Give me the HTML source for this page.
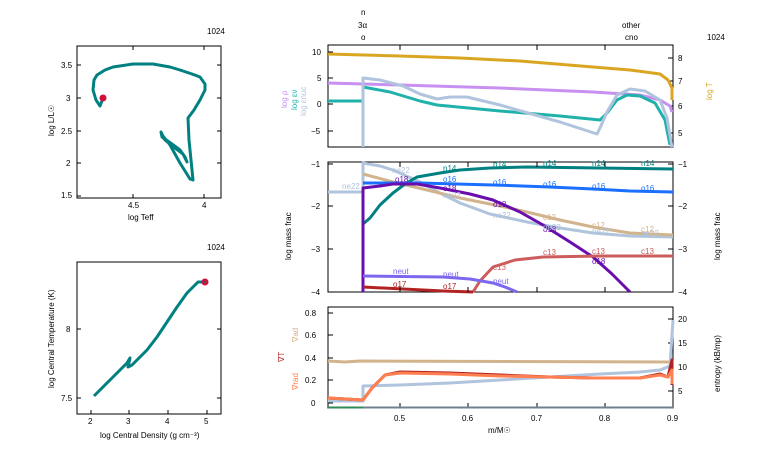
<!DOCTYPE html>
<html><head><meta charset="utf-8"><style>
html,body{margin:0;padding:0;background:#fff;}
svg{display:block;font-family:"Liberation Sans","DejaVu Sans",sans-serif;}
text{font-size:8px;fill:#000;}
.f{fill:none;stroke:#000;stroke-width:1;}
.l{fill:none;stroke-width:3;stroke-linejoin:round;stroke-linecap:butt;}
.s{font-size:8px;}
</style></head><body>
<svg width="766" height="460" viewBox="0 0 766 460" xmlns="http://www.w3.org/2000/svg">
<!-- HR diagram -->
<text x="207" y="34">1024</text>
<rect class="f" x="77" y="46" width="144" height="152"/>
<g stroke="#000" stroke-width="1">
<line x1="77" y1="65" x2="81" y2="65"/><line x1="77" y1="98" x2="81" y2="98"/><line x1="77" y1="131" x2="81" y2="131"/><line x1="77" y1="163" x2="81" y2="163"/><line x1="77" y1="196" x2="81" y2="196"/>
<line x1="217" y1="65" x2="221" y2="65"/><line x1="217" y1="98" x2="221" y2="98"/><line x1="217" y1="131" x2="221" y2="131"/><line x1="217" y1="163" x2="221" y2="163"/>
<line x1="133" y1="198" x2="133" y2="194"/><line x1="204" y1="198" x2="204" y2="194"/><line x1="133" y1="46" x2="133" y2="50"/><line x1="204" y1="46" x2="204" y2="50"/>
</g>
<text x="61" y="68">3.5</text><text x="66" y="101">3</text><text x="61" y="134">2.5</text><text x="66" y="166">2</text><text x="61" y="198">1.5</text>
<text x="128" y="208">4.5</text><text x="202" y="208">4</text>
<text x="128" y="220">log Teff</text>
<text transform="translate(54,136) rotate(-90)">log L/L☉</text>
<polyline class="l" stroke="#008080" points="103,98 100,106 96,100 93,90 94,80 97,75 105,70 113,67 133,64 153,64 170,67 180,70 192,74 200,77 205,84 205,90 200,100 194,110 188,118 189,140 191,160 193,180 190,179 180,163 170,145 163,136 161,132 162,137 172,144 180,150 185,157 187,162 183,154 175,148 165,140 162,135"/>
<circle cx="103" cy="98" r="3.5" fill="#d0103a"/>
<!-- density panel -->
<text x="207" y="250">1024</text>
<rect class="f" x="77" y="262" width="144" height="152"/>
<g stroke="#000" stroke-width="1">
<line x1="91" y1="414" x2="91" y2="410"/><line x1="129" y1="414" x2="129" y2="410"/><line x1="168" y1="414" x2="168" y2="410"/><line x1="207" y1="414" x2="207" y2="410"/>
<line x1="77" y1="329" x2="81" y2="329"/><line x1="77" y1="398" x2="81" y2="398"/><line x1="217" y1="329" x2="221" y2="329"/><line x1="217" y1="398" x2="221" y2="398"/>
</g>
<text x="88" y="424">2</text><text x="126" y="424">3</text><text x="165" y="424">4</text><text x="204" y="424">5</text>
<text x="66" y="332">8</text><text x="61" y="401">7.5</text>
<text x="100" y="438">log Central Density (g cm⁻³)</text>
<text transform="translate(54,388) rotate(-90)">log Central Temperature (K)</text>
<polyline class="l" stroke="#008080" points="94,396 110,380 127,363 130,358 128,367 132,365 140,357 147,350 157,337 167,322 177,307 187,293 198,282 205,282"/>
<circle cx="205" cy="282" r="3.5" fill="#d0103a"/>
<circle cx="205" cy="282" r="1" fill="#008080"/>

<!-- top labels -->
<text x="361" y="15">n</text><text x="358" y="28">3α</text><text x="361" y="40">o</text>
<text x="622" y="28">other</text><text x="625" y="40">cno</text>
<text x="707" y="40">1024</text>

<!-- top panel -->
<rect class="f" x="328" y="45" width="345" height="102"/>
<g stroke="#000" stroke-width="1">
<line x1="328" y1="52" x2="333" y2="52"/><line x1="328" y1="78" x2="333" y2="78"/><line x1="328" y1="104" x2="333" y2="104"/><line x1="328" y1="131" x2="333" y2="131"/>
<line x1="673" y1="58" x2="668" y2="58"/><line x1="673" y1="81" x2="668" y2="81"/><line x1="673" y1="106" x2="668" y2="106"/><line x1="673" y1="133" x2="668" y2="133"/>
</g>
<text x="312" y="55">10</text><text x="317" y="81">5</text><text x="317" y="107">0</text><text x="311" y="134">−5</text>
<text x="678" y="61">8</text><text x="678" y="84">7</text><text x="678" y="109">6</text><text x="678" y="136">5</text>
<text transform="translate(287,108) rotate(-90)" style="fill:#c890f0">log ρ</text>
<text transform="translate(297,110) rotate(-90)" style="fill:#20b2aa">log εν</text>
<text transform="translate(306,116) rotate(-90)" style="fill:#b0c4de">log εnuc</text>
<text transform="translate(712,100) rotate(-90)" style="fill:#daa520">log T</text>
<polyline class="l" stroke="#daa520" points="328,54 400,56 460,58 520,61 593,67 630,70 660,74 668,80 672,88 672,100"/>
<polyline class="l" stroke="#c890f0" points="328,83 400,85 500,88 593,92 640,95 660,100 670,106 672,112"/>
<polyline class="l" stroke="#20b2aa" points="328,101 363,101 363,87 390,92 420,101 437,105 500,111 560,116 600,120 607,113 617,100 627,95 640,96 655,103 665,120 670,145"/>
<polyline class="l" stroke="#b0c4de" points="363,147 363,78 380,80 403,86 420,94 437,99 450,97 467,97 500,105 560,122 597,134 600,128 607,112 617,95 630,89 645,91 660,100 667,118 672,147"/>

<!-- middle panel -->
<rect class="f" x="328" y="162" width="345" height="130"/>
<g stroke="#000" stroke-width="1">
<line x1="328" y1="164" x2="333" y2="164"/><line x1="328" y1="206" x2="333" y2="206"/><line x1="328" y1="249" x2="333" y2="249"/>
<line x1="673" y1="164" x2="668" y2="164"/><line x1="673" y1="206" x2="668" y2="206"/><line x1="673" y1="249" x2="668" y2="249"/>
</g>
<text x="311" y="167">−1</text><text x="311" y="209">−2</text><text x="311" y="252">−3</text><text x="311" y="295">−4</text>
<text x="678" y="167">−1</text><text x="678" y="209">−2</text><text x="678" y="252">−3</text><text x="678" y="295">−4</text>
<text transform="translate(291,260) rotate(-90)">log mass frac</text>
<text transform="translate(720,260) rotate(-90)">log mass frac</text>
<polyline class="l" stroke="#b0c4de" points="328,192 363,192 363,163 380,166 393,170 420,182 440,193 460,203 490,214 527,222 560,228 593,233 630,236 673,237"/>
<polyline class="l" stroke="#d2b48c" points="363,174 393,182 427,190 460,198 500,206 527,212 560,220 593,227 630,233 673,235"/>
<polyline class="l" stroke="#008080" points="363,224 370,218 380,205 393,193 405,184 417,177 440,173 460,170 490,168 527,167 600,168 673,169"/>
<polyline class="l" stroke="#1a6fff" points="363,183 420,183 493,185 550,187 593,189 630,191 673,192"/>
<polyline class="l" stroke="#6a0dad" points="363,292 363,188 380,186 393,184 417,184 440,188 470,194 493,200 520,212 543,225 570,242 593,257 612,274 630,292"/>
<polyline class="l" stroke="#cd5c5c" points="473,292 480,281 493,267 515,260 543,257 600,256 673,256"/>
<polyline class="l" stroke="#7b68ee" points="363,276 443,277 470,279 493,283 505,287 517,292"/>
<polyline class="l" stroke="#b22222" points="363,287 443,291 473,292"/>
<g class="s">
<text x="342" y="189" style="fill:#b0c4de">ne22</text>
<text x="392" y="173" style="fill:#b0c4de">ne22</text>
<text x="395" y="182" style="fill:#6a0dad">o18</text>
<text x="443" y="171" style="fill:#008080">n14</text><text x="493" y="167" style="fill:#008080">n14</text><text x="543" y="166" style="fill:#008080">n14</text><text x="592" y="166" style="fill:#008080">n14</text><text x="641" y="166" style="fill:#008080">n14</text>
<text x="443" y="182" style="fill:#1a6fff">o16</text><text x="493" y="185" style="fill:#1a6fff">o16</text><text x="543" y="187" style="fill:#1a6fff">o16</text><text x="592" y="189" style="fill:#1a6fff">o16</text><text x="641" y="191" style="fill:#1a6fff">o16</text>
<text x="443" y="191" style="fill:#6a0dad">o18</text><text x="493" y="207" style="fill:#6a0dad">o18</text><text x="543" y="232" style="fill:#6a0dad">o18</text><text x="592" y="264" style="fill:#6a0dad">o18</text>
<text x="443" y="198" style="fill:#b0c4de">ne22</text><text x="493" y="218" style="fill:#b0c4de">ne22</text><text x="543" y="230" style="fill:#b0c4de">ne22</text><text x="592" y="234" style="fill:#b0c4de">ne22</text><text x="641" y="236" style="fill:#b0c4de">ne22</text>
<text x="543" y="220" style="fill:#d2b48c">c12</text><text x="592" y="228" style="fill:#d2b48c">c12</text><text x="641" y="232" style="fill:#d2b48c">c12</text>
<text x="493" y="270" style="fill:#cd5c5c">c13</text><text x="543" y="255" style="fill:#cd5c5c">c13</text><text x="592" y="254" style="fill:#cd5c5c">c13</text><text x="641" y="254" style="fill:#cd5c5c">c13</text>
<text x="393" y="274" style="fill:#7b68ee">neut</text><text x="443" y="277" style="fill:#7b68ee">neut</text><text x="493" y="284" style="fill:#7b68ee">neut</text>
<text x="393" y="287" style="fill:#b22222">o17</text><text x="443" y="289" style="fill:#b22222">o17</text>
</g>

<!-- bottom panel -->
<rect class="f" x="328" y="307" width="345" height="101"/>
<g stroke="#000" stroke-width="1">
<line x1="328" y1="313" x2="333" y2="313"/><line x1="328" y1="335" x2="333" y2="335"/><line x1="328" y1="358" x2="333" y2="358"/><line x1="328" y1="380" x2="333" y2="380"/><line x1="328" y1="403" x2="333" y2="403"/>
<line x1="673" y1="319" x2="668" y2="319"/><line x1="673" y1="343" x2="668" y2="343"/><line x1="673" y1="367" x2="668" y2="367"/><line x1="673" y1="391" x2="668" y2="391"/>
<line x1="400" y1="408" x2="400" y2="403"/><line x1="468" y1="408" x2="468" y2="403"/><line x1="537" y1="408" x2="537" y2="403"/><line x1="605" y1="408" x2="605" y2="403"/>
<line x1="400" y1="45" x2="400" y2="50"/><line x1="468" y1="45" x2="468" y2="50"/><line x1="537" y1="45" x2="537" y2="50"/><line x1="605" y1="45" x2="605" y2="50"/>
<line x1="400" y1="162" x2="400" y2="167"/><line x1="468" y1="162" x2="468" y2="167"/><line x1="537" y1="162" x2="537" y2="167"/><line x1="605" y1="162" x2="605" y2="167"/>
<line x1="400" y1="292" x2="400" y2="287"/><line x1="468" y1="292" x2="468" y2="287"/><line x1="537" y1="292" x2="537" y2="287"/><line x1="605" y1="292" x2="605" y2="287"/>
</g>
<text x="305" y="316">0.8</text><text x="305" y="338">0.6</text><text x="305" y="361">0.4</text><text x="305" y="383">0.2</text><text x="311" y="406">0</text>
<text x="678" y="322">20</text><text x="678" y="346">15</text><text x="678" y="370">10</text><text x="678" y="394">5</text>
<text x="394" y="421">0.5</text><text x="462" y="421">0.6</text><text x="531" y="421">0.7</text><text x="599" y="421">0.8</text><text x="667" y="421">0.9</text>
<text x="488" y="433">m/M☉</text>
<text transform="translate(720,392) rotate(-90)">entropy (kB/mp)</text>
<text transform="translate(298,342) rotate(-90)" style="fill:#d2b48c">∇ad</text>
<text transform="translate(284,362) rotate(-90)" style="fill:#b22222">∇T</text>
<text transform="translate(298,390) rotate(-90)" style="fill:#ff7f50">∇rad</text>
<line x1="328" y1="407.5" x2="673" y2="407.5" stroke="#708090" stroke-width="2"/>
<line x1="328" y1="407.5" x2="363" y2="407.5" stroke="#2e8b57" stroke-width="2"/>
<polyline class="l" stroke="#d2b48c" points="328,361 345,362 360,361 673,362"/>
<polyline class="l" stroke="#b0c4de" points="328,401 363,401 363,386 400,385 450,383 500,380 550,377 600,374 640,372 660,370 670,366 673,320"/>
<polyline class="l" stroke="#b22222" points="328,398 363,400 372,388 385,375 400,372 450,373 500,375 550,377 593,378 640,378 660,374 668,377 672,360 672,385"/>
<polyline class="l" stroke="#ff7f50" points="328,398 363,400 372,388 385,375 400,373 450,374 500,376 550,377 593,378 640,378 660,375 668,377 672,370 672,384"/>
</svg>
</body></html>
